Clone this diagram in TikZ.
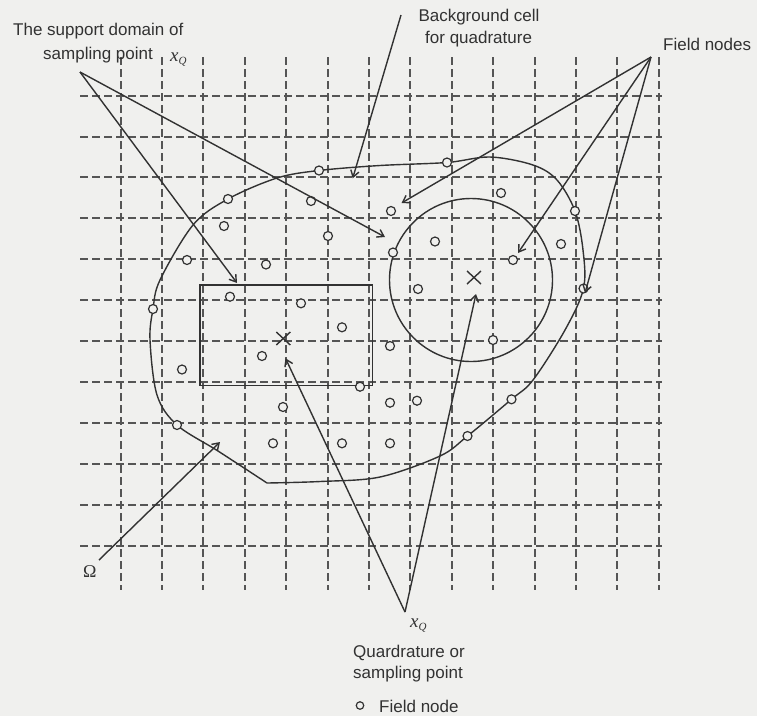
\documentclass[tikz,border=0pt]{standalone}
\usepackage{fontspec}
\setmainfont{Liberation Sans}
\newfontfamily\serif{Liberation Serif}
\usetikzlibrary{arrows.meta}
\definecolor{bgc}{RGB}{240,240,238}
\definecolor{ink}{RGB}{50,50,50}
\definecolor{gridc}{RGB}{85,85,85}
\tikzset{
  gridline/.style={draw=gridc, line width=1.5pt, dash pattern=on 7.5pt off 4.5pt},
  bound/.style={draw=ink, line width=1.4pt},
  conn/.style={draw=ink, line width=1.4pt, -{Straight Barb[length=6.5pt,width=8.5pt,line width=1.4pt]}},
  fnode/.style={circle, draw=ink, line width=1.2pt, fill=bgc, minimum size=9pt, inner sep=0pt},
  lbl/.style={text=ink, font=\fontsize{17}{20.5}\selectfont, inner sep=0pt},
  xmark/.style={draw=ink, line width=1.4pt},
}
\newcommand{\xq}{{\fontsize{19}{22}\selectfont\serif\itshape x}\raisebox{-3.5pt}{\fontsize{11}{13}\selectfont\serif\itshape Q}}
\begin{document}
\begin{tikzpicture}[x=1pt,y=-1pt]
\fill[bgc] (0,0) rectangle (757,716);
\useasboundingbox (0,0) rectangle (757,716);
% grid
\foreach \k in {0,...,13}{
  \pgfmathsetmacro{\gx}{round(120.7+41.4*\k)}
  \draw[gridline] (\gx,57) -- (\gx,590);
}
\foreach \j in {0,...,11}{
  \pgfmathsetmacro{\gy}{round(95.7+40.9*\j)}
  \draw[gridline] (80,\gy) -- (662,\gy);
}
% domain boundary
\draw[bound] plot[smooth, tension=0.55] coordinates {
 (267,483) (320,481.5) (380,477) (440,456) (467.5,436) (511.5,399.3) (533,380)
 (565,330) (583.5,288.5) (583,250) (575,211) (557,180) (533,165) (490,157)
 (447,162.5) (380,165.5) (319,170.5) (277,178) (228,199) (193,225) (160,280)
 (153,309) (150,340) (157,395) (177,425) (218,451) (267,483)};
% support domains
\draw[bound] (200,285) rectangle (372.5,385.7);
\draw[bound] (471,280) circle (81.5);
% quadrature points
\coordinate (q1) at (283.3,338.5);
\coordinate (q2) at (474,277.5);
\foreach \q in {q1,q2}{
  \draw[xmark] ([shift={(-7,-6.5)}]\q) -- ([shift={(7,6.5)}]\q);
  \draw[xmark] ([shift={(-7,6.5)}]\q) -- ([shift={(7,-6.5)}]\q);
}
% field nodes
\foreach \p [count=\i] in {(447,162.5),(319,170.5),(228,199),(311,201),(224,226),(328,236),(391,211),(501,193),(575,211),(187,260),(266,264.5),(435,241.5),(393,252.5),(513,260),(561,244),(583.5,288.5),(153,309),(230,296.7),(301,303.3),(418,289),(342,327.3),(262,356),(493,340),(182,369.5),(390,346),(360,386.7),(283,407),(390,402.7),(417,400.7),(177,425),(273,443.3),(342,443.3),(390,443.3),(467.5,436),(511.5,399.3)}{
  \node[fnode] (n\i) at \p {};
}
% labels
\node[lbl, anchor=base west] (sd1) at (13,35) {The support domain of};
\node[lbl, anchor=base west] (sd2) at (43,59.5) {sampling point};
\node[lbl, anchor=base west] (sdx) at (170,61) {\xq};
\node[lbl, anchor=base west] (bg1) at (418.3,21.7) {Background cell};
\node[lbl, anchor=base west] (bg2) at (425,43.3) {for quadrature};
\node[lbl, anchor=base west] (fn) at (663,50) {Field nodes};
\node[lbl, anchor=base west] (om) at (83,577) {\fontsize{18}{20}\selectfont\serif Ω};
\node[lbl, anchor=base west] (xq) at (410,627) {\xq};
\node[lbl, anchor=base west] (qd1) at (353,657) {Quardrature or};
\node[lbl, anchor=base west] (qd2) at (353,678.5) {sampling point};
\node[fnode, minimum size=7.5pt] (leg) at (360,705.5) {};
\node[lbl, anchor=base west] (legt) at (379,712) {Field node};
% connector anchors
\coordinate (sdA) at (80,72);
\coordinate (sdT1) at (237,283);
\coordinate (sdT2) at (385,237);
\coordinate (bgA) at (401,15);
\coordinate (bgT) at (352.7,178.3);
\coordinate (fnA) at (651,57);
\coordinate (fnT1) at (401.5,203);
\coordinate (fnT2) at (518,253);
\coordinate (fnT3) at (585,293);
\coordinate (omA) at (99,560);
\coordinate (omT) at (220,442);
\coordinate (xqA) at (405,612);
\coordinate (xqT1) at (285.5,358.3);
\coordinate (xqT2) at (476,294);
% connectors
\draw[conn] (sdA) -- (sdT1);
\draw[conn] (sdA) -- (sdT2);
\draw[conn] (bgA) -- (bgT);
\draw[conn] (fnA) -- (fnT1);
\draw[conn] (fnA) -- (fnT2);
\draw[conn] (fnA) -- (fnT3);
\draw[conn] (omA) -- (omT);
\draw[conn] (xqA) -- (xqT1);
\draw[conn] (xqA) -- (xqT2);
\end{tikzpicture}
\end{document}
